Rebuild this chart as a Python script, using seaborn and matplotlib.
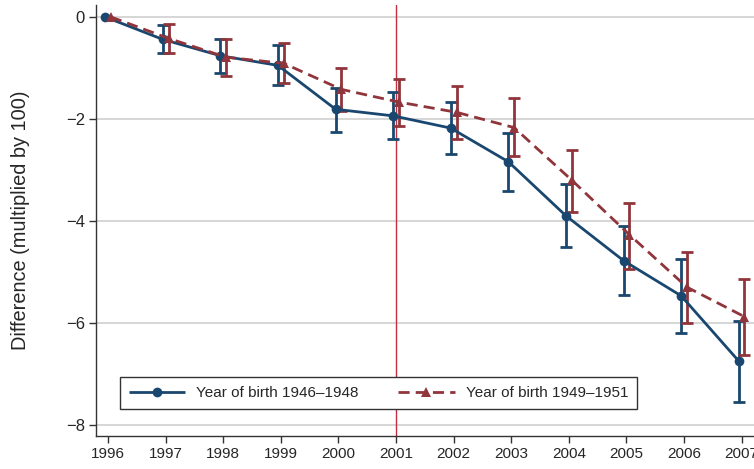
import numpy as np
import pandas as pd
import matplotlib
matplotlib.use("Agg")
import matplotlib.pyplot as plt
import seaborn as sns

years = [1996, 1997, 1998, 1999, 2000, 2001, 2002, 2003, 2004, 2005, 2006, 2007]
blue_val = [0.0, -0.44, -0.76, -0.95, -1.81, -1.94, -2.18, -2.84, -3.90, -4.78, -5.47, -6.75]
blue_lo = [0.0, -0.71, -1.10, -1.33, -2.25, -2.40, -2.69, -3.41, -4.52, -5.45, -6.19, -7.55]
blue_hi = [0.0, -0.16, -0.43, -0.55, -1.40, -1.47, -1.66, -2.28, -3.27, -4.11, -4.75, -5.96]
red_val = [0.0, -0.42, -0.79, -0.91, -1.42, -1.67, -1.87, -2.17, -3.20, -4.27, -5.30, -5.88]
red_lo = [0.0, -0.71, -1.15, -1.30, -1.84, -2.14, -2.40, -2.73, -3.83, -4.94, -6.01, -6.63]
red_hi = [0.0, -0.14, -0.44, -0.52, -1.01, -1.21, -1.35, -1.59, -2.61, -3.65, -4.61, -5.14]
labels = ["Year of birth 1946\u20131948", "Year of birth 1949\u20131951"]
yticks = [0, -2, -4, -6, -8]

sns.set_style("white")
plt.rcParams['font.family'] = ['Liberation Sans', 'DejaVu Sans']

BLUE = "#1a476f"
RED = "#90353b"

fig = plt.figure(figsize=(7.54, 4.69), dpi=100)
ax = fig.add_axes([96/754, 33/469, 1 - 96/754, (436-5)/469])

off = 0.05
yrs = np.array(years, dtype=float)
df = pd.DataFrame({
    "x": np.concatenate([yrs - off, yrs + off]),
    "y": blue_val + red_val,
    "group": [labels[0]] * len(years) + [labels[1]] * len(years),
})

for y in yticks:
    ax.axhline(y, color="#d0d0d0", lw=1.2, zorder=0)
ax.axvline(2001, color="#c0303f", lw=1.0, zorder=1)

# error bars
for vals, lo, hi, xs, col in [
    (blue_val, blue_lo, blue_hi, yrs - off, BLUE),
    (red_val, red_lo, red_hi, yrs + off, RED),
]:
    v = np.array(vals); l = np.array(lo); h = np.array(hi)
    mask = (h - l) > 0
    ax.errorbar(xs[mask], v[mask], yerr=[v[mask] - l[mask], h[mask] - v[mask]],
                fmt="none", ecolor=col, elinewidth=2.0, capsize=4, capthick=2.0, zorder=3)

sns.lineplot(data=df, x="x", y="y", hue="group", style="group",
             palette=[BLUE, RED], markers=["o", "^"], dashes=[(1, 0), (4, 2.2)],
             markersize=7, markeredgewidth=0, linewidth=2.0, ax=ax, legend=True, zorder=4)

ax.set_xlim(1995.79, 2007.215)
ax.set_ylim(-8.22, 0.235)
ax.set_xticks(years)
ax.set_xticklabels([str(y) for y in years], fontsize=11)
ax.set_yticks(yticks)
ax.set_yticklabels(["0" if y == 0 else "\u2212%d" % abs(y) for y in yticks], fontsize=12)
ax.set_xlabel("")
ax.set_ylabel("Difference (multiplied by 100)", fontsize=14.4, labelpad=26)
ax.tick_params(axis="both", which="both", direction="out", length=5, width=1, color="#333333",
               bottom=True, left=True, pad=3)
for s in ["top", "right"]:
    ax.spines[s].set_visible(False)
for s in ["left", "bottom"]:
    ax.spines[s].set_color("#333333")
    ax.spines[s].set_linewidth(1.0)

handles, labs = ax.get_legend_handles_labels()
leg = ax.legend(handles, labs, loc="upper left", bbox_to_anchor=((120-96)/658, (436-377)/431),
                ncol=2, frameon=True, fancybox=False, fontsize=11, handlelength=3.67,
                columnspacing=2.6, borderpad=0.6, handletextpad=0.72, borderaxespad=0,
                framealpha=1)
leg.get_frame().set_edgecolor("#333333")
leg.get_frame().set_linewidth(1.0)
leg.get_frame().set_facecolor("white")
leg.set_zorder(10)

fig.savefig("out.png", dpi=100)
